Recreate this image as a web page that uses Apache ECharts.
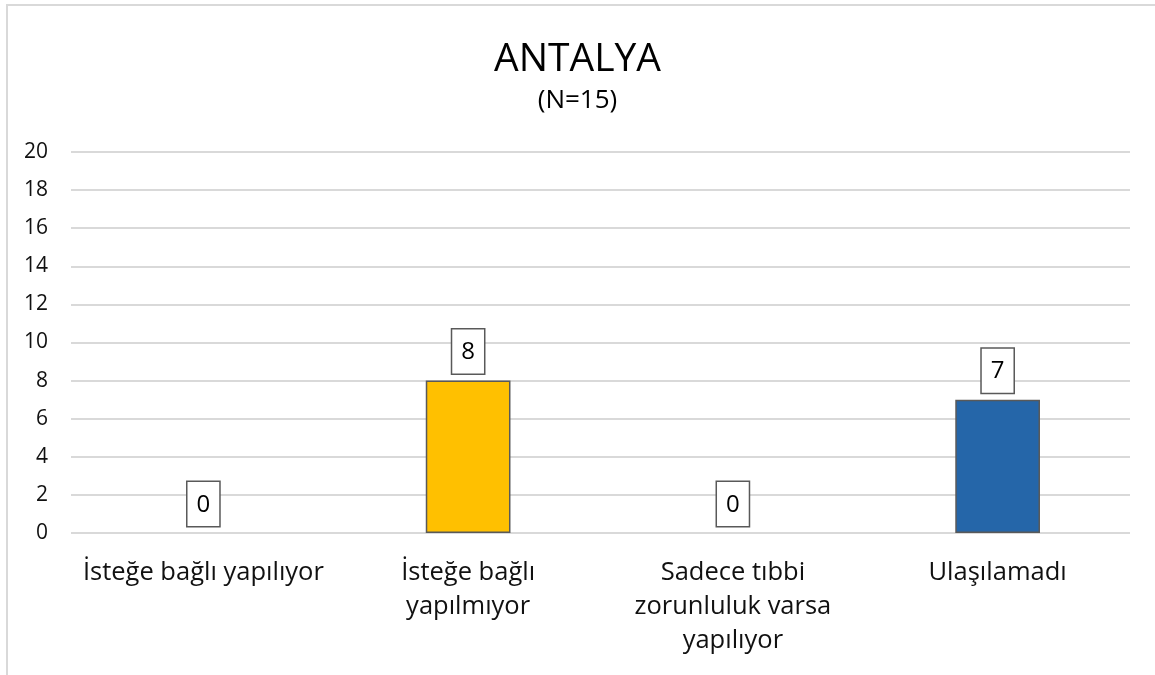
<!DOCTYPE html>
<html>
<head>
<meta charset="utf-8">
<script src="https://cdn.jsdelivr.net/npm/echarts@6/dist/echarts.min.js"></script>
<style>html,body{margin:0;padding:0;background:#fff}#c{width:1155px;height:675px}</style>
</head>
<body>
<div id="c"></div>
<script>
const titleText = 'ANTALYA';
const subtitleText = '(N=15)';
const categories = ['İsteğe bağlı yapılıyor', 'İsteğe bağlı\nyapılmıyor', 'Sadece tıbbi\nzorunluluk varsa\nyapılıyor', 'Ulaşılamadı'];
const values = [0, 8, 0, 7];
const barColors = ['#FFC000', '#FFC000', '#FFC000', '#2566A9'];
const yMin = 0, yMax = 20, yStep = 2;

const chart = echarts.init(document.getElementById('c'));
const FONT = 'Open Sans';
chart.setOption({
  animation: false,
  backgroundColor: '#fff',
  textStyle: { fontFamily: FONT },
  graphic: [{
    type: 'rect', shape: { x: 7, y: 5, width: 1160, height: 680 },
    style: { fill: 'none', stroke: '#d9d9d9', lineWidth: 2 }, silent: true, z: -10
  }],
  title: {
    text: titleText,
    subtext: subtitleText,
    left: 'center', top: 35, itemGap: 9,
    textStyle: { fontFamily: FONT, fontSize: 39, fontWeight: 'normal', color: '#000' },
    subtextStyle: { fontFamily: FONT, fontSize: 26, color: '#000' }
  },
  grid: { left: 71, right: 25, top: 152, bottom: 142, containLabel: false },
  xAxis: {
    type: 'category', data: categories,
    axisLine: { show: false }, axisTick: { show: false },
    axisLabel: { interval: 0, margin: 23, fontFamily: FONT, fontSize: 25.5, lineHeight: 34, color: '#111' }
  },
  yAxis: {
    type: 'value', min: yMin, max: yMax, interval: yStep,
    axisLine: { show: false }, axisTick: { show: false },
    axisLabel: { margin: 23, fontFamily: FONT, fontSize: 21, color: '#111' },
    splitLine: { lineStyle: { color: '#d9d9d9', width: 2 } }
  },
  series: [{
    type: 'bar', barWidth: '32%',
    data: values.map((v, i) => ({ value: v, itemStyle: { color: barColors[i], borderWidth: v === 0 ? 0 : 1.5 } })),
    itemStyle: { borderColor: '#595959', borderWidth: 1.5 },
    label: {
      show: true, position: 'top', distance: 7,
      fontFamily: FONT, fontSize: 24, color: '#000',
      backgroundColor: '#fff', borderColor: '#595959', borderWidth: 1.5,
      padding: [11, 9, 9, 9]
    }
  }]
});
</script>
</body>
</html>
